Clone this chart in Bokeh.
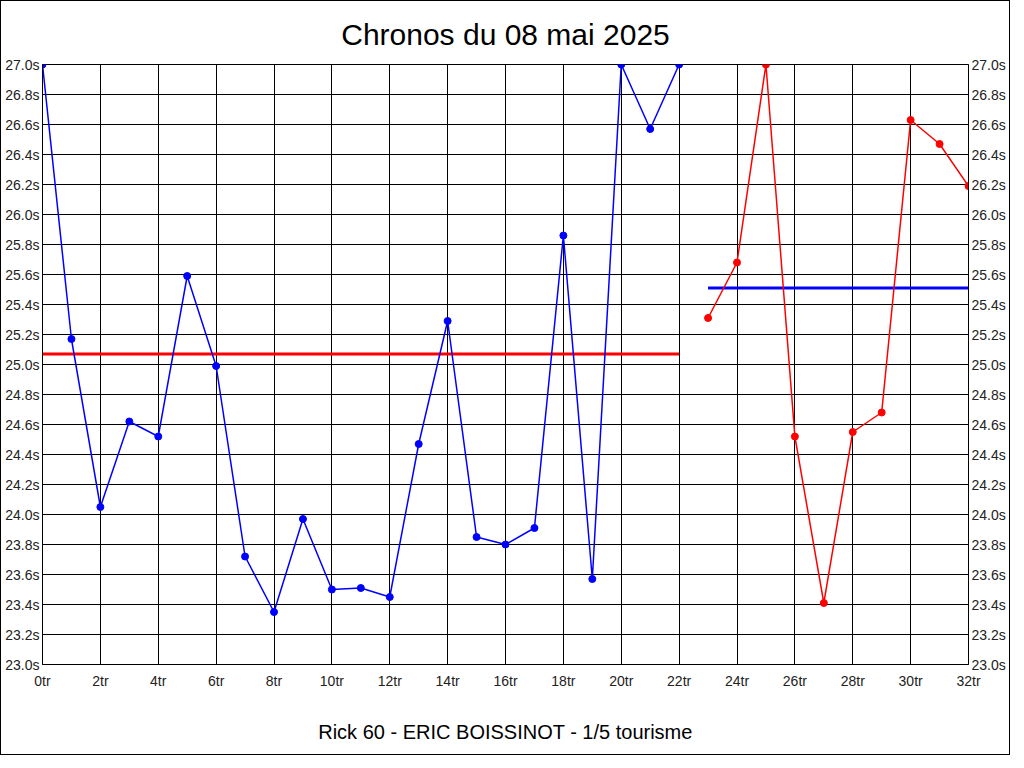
from bokeh.plotting import figure
from bokeh.models import Range1d, LinearAxis, PrintfTickFormatter, FixedTicker
from bokeh.embed import file_html
from bokeh.resources import INLINE

title_text = "Chronos du 08 mai 2025"
xlabel_text = "Rick 60 - ERIC BOISSINOT - 1/5 tourisme"

laps_a = list(range(0, 23))
times_a = [27.0, 25.17, 24.05, 24.62, 24.52, 25.59, 24.99, 23.72, 23.35, 23.97,
           23.50, 23.51, 23.45, 24.47, 25.29, 23.85, 23.80, 23.91, 25.86, 23.57,
           27.0, 26.57, 27.0]
laps_b = list(range(23, 33))
times_b = [25.31, 25.68, 27.0, 24.52, 23.41, 24.55, 24.68, 26.63, 26.47, 26.19]
avg_a = 25.07
avg_b = 25.51

x_ticks = list(range(0, 33, 2))
y_ticks = [round(23.0 + 0.2 * i, 1) for i in range(21)]

FONT = "Liberation Sans"

p = figure(width=1008, height=752, output_backend="svg", toolbar_location=None,
           x_range=Range1d(0, 32), y_range=Range1d(23.0, 27.0),
           min_border_left=41, min_border_right=41, min_border_top=62,
           min_border_bottom=90, frame_width=926, frame_height=600,
           y_axis_location="left")
p.styles = {"border": "1px solid black", "box-sizing": "border-box"}

p.title.text = title_text
p.title.align = "center"
p.title.text_font = FONT
p.title.text_font_size = "30px"
p.title.text_font_style = "normal"
p.title.text_color = "black"
p.title.standoff = 28

p.background_fill_color = "white"
p.border_fill_color = "white"
p.outline_line_color = "black"
p.outline_line_width = 1

for g in (p.xgrid, p.ygrid):
    g.grid_line_color = "black"
    g.grid_line_width = 1
    g.grid_line_alpha = 1.0
p.xgrid.ticker = FixedTicker(ticks=x_ticks)
p.ygrid.ticker = FixedTicker(ticks=y_ticks)

right = LinearAxis()
p.add_layout(right, "right")

for ax in p.yaxis:
    ax.ticker = FixedTicker(ticks=y_ticks)
    ax.formatter = PrintfTickFormatter(format="%.1fs")
    ax.major_tick_out = 0
    ax.major_tick_in = 0
    ax.minor_tick_out = 0
    ax.minor_tick_in = 0
    ax.axis_line_color = "black"
    ax.major_label_standoff = 3
    ax.major_label_text_font = FONT
    ax.major_label_text_font_size = "14px"
    ax.major_label_text_color = "#222222"

xa = p.xaxis[0]
xa.ticker = FixedTicker(ticks=x_ticks)
xa.formatter = PrintfTickFormatter(format="%dtr")
xa.major_tick_out = 0
xa.major_tick_in = 0
xa.minor_tick_out = 0
xa.minor_tick_in = 0
xa.axis_line_color = "black"
xa.major_label_standoff = 8
xa.major_label_text_font = FONT
xa.major_label_text_font_size = "14px"
xa.major_label_text_color = "#222222"
xa.axis_label = xlabel_text
xa.axis_label_text_font = FONT
xa.axis_label_text_font_size = "20px"
xa.axis_label_text_font_style = "normal"
xa.axis_label_text_color = "black"
xa.axis_label_standoff = 29

# average lines
p.line([laps_a[0], laps_a[-1]], [avg_a, avg_a], line_color="#ff0000", line_width=3)
p.line([laps_b[0], laps_b[-1]], [avg_b, avg_b], line_color="#0000ff", line_width=3)

# series
p.line(laps_a, times_a, line_color="#0000ff", line_width=1.5)
p.scatter(laps_a, times_a, size=7, fill_color="#0000ff", line_color="#0000ff")
p.line(laps_b, times_b, line_color="#ff0000", line_width=1.5)
p.scatter(laps_b, times_b, size=7, fill_color="#ff0000", line_color="#ff0000")

open("out.html", "w").write(file_html(p, INLINE))
